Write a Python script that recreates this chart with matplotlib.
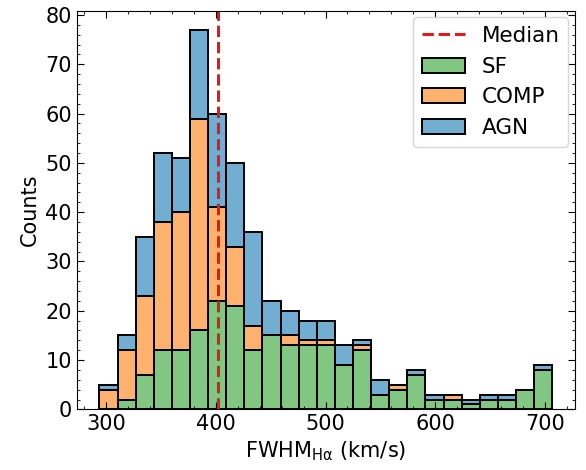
import numpy as np
import matplotlib
matplotlib.use("Agg")
import matplotlib.pyplot as plt
from matplotlib.ticker import AutoMinorLocator

# bins: 25 equal bins from ~294 to ~706.5 km/s
bin_lo, bin_hi, n_bins = 294.0, 706.5, 25
sf_counts = [0, 2, 7, 12, 12, 16, 22, 21, 12, 15, 13, 13, 13,
             9, 12, 3, 4, 7, 2, 2, 1, 2, 2, 4, 8]
comp_counts = [4, 10, 16, 26, 28, 43, 19, 12, 5, 0, 2, 1, 1,
               0, 1, 0, 1, 0, 0, 1, 0, 0, 0, 0, 0]
agn_counts = [1, 3, 12, 14, 11, 18, 19, 17, 19, 7, 5, 4, 4,
              4, 1, 3, 0, 1, 1, 0, 1, 1, 1, 0, 1]
median_fwhm = 402.0

labels = ["SF", "COMP", "AGN"]
colors = ["#81c681", "#ffb26e", "#72add2"]

edges = np.linspace(bin_lo, bin_hi, n_bins + 1)
centers = 0.5 * (edges[:-1] + edges[1:])

FS = 15
plt.rcParams["font.family"] = "DejaVu Sans"
fig = plt.figure(figsize=(5.86, 4.70), dpi=100)
ax = fig.add_axes([0.131, 0.129, 0.850, 0.848])

ax.hist([centers] * 3, bins=edges,
        weights=[sf_counts, comp_counts, agn_counts],
        stacked=True, histtype="bar", rwidth=1.0,
        color=colors, edgecolor="black", linewidth=1.4, label=labels)
ax.axvline(median_fwhm, color="#e31a1c", ls="--", lw=2.2, label="Median")

ax.set_xlabel(r"FWHM$_{\mathrm{H\alpha}}$ (km/s)", fontsize=FS)
ax.set_ylabel("Counts", fontsize=FS)
ax.set_xticks([300, 400, 500, 600, 700])
ax.set_yticks(range(0, 90, 10))
ax.xaxis.set_minor_locator(AutoMinorLocator())
ax.yaxis.set_minor_locator(AutoMinorLocator())
ax.tick_params(which="both", direction="in", top=True, right=True, labelsize=FS)
ax.tick_params(which="major", length=5)
ax.tick_params(which="minor", length=2.5)

h, l = ax.get_legend_handles_labels()
order = [l.index("Median")] + [l.index(s) for s in labels]
ax.legend([h[i] for i in order], [l[i] for i in order],
          loc="upper right", fontsize=15.5, handlelength=2.0,
          borderaxespad=0.3)

fig.savefig("out.png", dpi=100)
